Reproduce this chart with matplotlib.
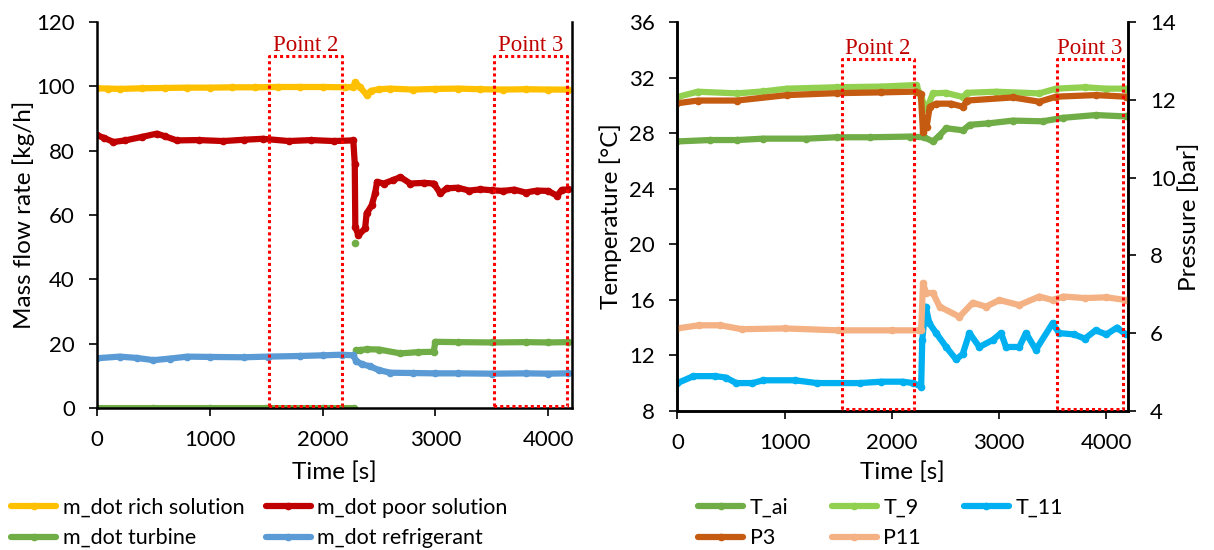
import matplotlib.pyplot as plt
import numpy as np

plt.rcParams['font.family'] = ['Lato', 'DejaVu Sans']

# ---- left chart: mass flow rates [kg/h] ----
rich_t = [0, 100, 200, 400, 600, 800, 1000, 1200, 1400, 1600, 1800, 2000, 2200, 2270,
          2290, 2330, 2390, 2430, 2500, 2600, 2800, 3000, 3200, 3400, 3600, 3800, 4000, 4180]
rich = [99.4, 99.3, 99.2, 99.4, 99.5, 99.6, 99.6, 99.7, 99.7, 99.8, 99.8, 99.8, 99.7, 99.8,
        101.2, 99.8, 97.4, 98.6, 99.1, 99.3, 99.0, 99.2, 99.3, 99.1, 99.0, 99.1, 99.0, 99.0]

poor_t = [0, 60, 145, 250, 400, 529, 600, 706, 900, 1120, 1300, 1470, 1700, 1900, 2100, 2272,
          2285, 2290, 2318, 2377, 2390, 2435, 2465, 2483, 2542, 2620, 2690, 2778, 2900, 2985,
          3045, 3100, 3200, 3300, 3400, 3500, 3600, 3700, 3800, 3900, 4000, 4080, 4120, 4180]
poor = [84.8, 84.0, 82.7, 83.2, 84.3, 85.3, 84.5, 83.2, 83.3, 83.0, 83.4, 83.7, 83.0, 83.3, 83.0, 83.2,
        76.0, 56.3, 53.7, 55.9, 60.5, 63.0, 66.7, 70.3, 69.8, 70.8, 71.8, 69.8, 70.0, 69.8,
        66.7, 68.3, 68.5, 67.6, 68.0, 67.7, 67.5, 67.9, 67.0, 67.6, 67.5, 66.0, 67.8, 68.0]

turb_t = [0, 500, 1000, 1500, 2000, 2280, 2285, 2288, 2292, 2300, 2330, 2390, 2500, 2690,
          2850, 2985, 3000, 3200, 3500, 3800, 4000, 4180]
turb = [0, 0, 0, 0, 0, 0, np.nan, 51.3, np.nan, 18.0, 18.0, 18.3, 18.2, 17.0,
        17.4, 17.5, 20.6, 20.5, 20.4, 20.5, 20.4, 20.5]

refr_t = [0, 200, 350, 500, 650, 800, 1000, 1300, 1517, 1800, 2000, 2170, 2270, 2300, 2350,
          2420, 2500, 2600, 2800, 3000, 3200, 3500, 3800, 4000, 4180]
refr = [15.5, 16.0, 15.6, 14.9, 15.4, 16.0, 15.9, 15.8, 16.0, 16.2, 16.4, 16.6, 16.4, 14.6, 13.6,
        13.0, 11.8, 11.0, 10.9, 10.8, 10.8, 10.7, 10.8, 10.7, 10.8]

# ---- right chart: temperatures [C] and pressures [bar] ----
tai_t = [0, 300, 555, 800, 1200, 1485, 1800, 2167, 2300, 2383, 2440, 2508, 2663, 2725, 2900,
         3128, 3407, 3593, 3903, 4182]
tai = [27.4, 27.5, 27.5, 27.6, 27.6, 27.7, 27.7, 27.75, 27.7, 27.4, 27.8, 28.35, 28.2, 28.6, 28.7,
       28.9, 28.85, 29.1, 29.3, 29.2]

t9_t = [0, 189, 555, 800, 1020, 1485, 1900, 2229, 2275, 2323, 2383, 2500, 2663, 2700, 2973,
        3376, 3531, 3800, 4000, 4182]
t9 = [30.6, 30.98, 30.86, 31.0, 31.2, 31.3, 31.35, 31.46, 30.5, 29.7, 30.86, 30.9, 30.6, 30.9, 30.98,
      30.86, 31.2, 31.3, 31.2, 31.2]

t11_t = [0, 150, 350, 450, 550, 700, 800, 1100, 1300, 1700, 1900, 2100, 2200, 2273, 2283, 2315,
         2350, 2413, 2506, 2599, 2661, 2723, 2816, 2940, 3018, 3064, 3188, 3250, 3343, 3498,
         3560, 3700, 3800, 3900, 4000, 4100, 4180]
t11 = [10.0, 10.5, 10.5, 10.4, 10.0, 10.0, 10.2, 10.2, 10.0, 10.0, 10.1, 10.1, 10.0, 9.75, 13.1, 15.5,
       14.3, 13.6, 12.6, 11.7, 12.1, 13.6, 12.6, 13.1, 13.6, 12.6, 12.6, 13.6, 12.4, 14.3,
       13.6, 13.5, 13.2, 13.8, 13.5, 14.0, 13.5]

p3_t = [0, 189, 555, 1020, 1485, 1900, 2229, 2270, 2290, 2323, 2353, 2414, 2550, 2663, 2700,
        3128, 3376, 3531, 3900, 4182]
p3 = [11.91, 11.98, 11.98, 12.12, 12.17, 12.19, 12.21, 12.15, 11.18, 11.3, 11.82, 11.9, 11.9, 11.82, 11.98,
      12.06, 11.95, 12.08, 12.12, 12.08]

p11_t = [0, 200, 400, 600, 1000, 1500, 2000, 2250, 2273, 2290, 2320, 2383, 2445, 2630, 2754,
         2878, 3002, 3188, 3374, 3498, 3600, 3800, 4000, 4182]
p11 = [6.12, 6.2, 6.2, 6.1, 6.12, 6.07, 6.07, 6.07, 6.07, 7.28, 7.03, 7.03, 6.68, 6.42, 6.78,
       6.68, 6.85, 6.72, 6.94, 6.85, 6.94, 6.9, 6.92, 6.85]

# point boxes: (x0, x1)
point2_left = (1525, 2170)
point3_left = (3521, 4171)
point2_right = (1532, 2207)
point3_right = (3538, 4158)

C_RICH = '#FFC000'
C_POOR = '#C00000'
C_TURB = '#70AD47'
C_REFR = '#5B9BD5'
C_T9 = '#92D050'
C_T11 = '#00B0F0'
C_P3 = '#C55A11'
C_P11 = '#F4B183'

lw = 4.5
ms = 4.5
fs = 16
fs_leg = 15.5
fs_lab = 17.5

fig = plt.figure(figsize=(12.14, 5.5), dpi=100)
ax1 = fig.add_axes([0.080, 0.258, 0.391, 0.702])
ax2 = fig.add_axes([0.558, 0.253, 0.371, 0.707])
ax2r = ax2.twinx()


def series(ax, t, v, c, label):
    return ax.plot(t, v, color=c, lw=lw, marker='o', ms=ms, mec=c, mfc=c,
                   solid_capstyle='round', label=label)[0]


h_rich = series(ax1, rich_t, rich, C_RICH, 'm_dot rich solution')
h_poor = series(ax1, poor_t, poor, C_POOR, 'm_dot poor solution')
h_turb = series(ax1, turb_t, turb, C_TURB, 'm_dot turbine')
h_refr = series(ax1, refr_t, refr, C_REFR, 'm_dot refrigerant')

h_tai = series(ax2, tai_t, tai, C_TURB, 'T_ai')
h_t9 = series(ax2, t9_t, t9, C_T9, 'T_9')
h_t11 = series(ax2, t11_t, t11, C_T11, 'T_11')
h_p3 = series(ax2r, p3_t, p3, C_P3, 'P3')
h_p11 = series(ax2r, p11_t, p11, C_P11, 'P11')


def box(ax, xs, y0, y1, label):
    ax.plot([xs[0], xs[0], xs[1], xs[1], xs[0]], [y0, y1, y1, y0, y0],
            color='#FF0000', ls=(0, (1, 1)), lw=2.2, zorder=10, clip_on=False)
    ax.text((xs[0] + xs[1]) / 2, y1, label, ha='center', va='bottom',
            color=C_POOR, fontsize=16.5, family='Liberation Serif')


box(ax1, point2_left, 0.8, 109.3, 'Point 2')
box(ax1, point3_left, 0.8, 109.3, 'Point 3')
box(ax2r, point2_right, 4.04, 13.05, 'Point 2')
box(ax2r, point3_right, 4.04, 13.05, 'Point 3')

ax1.set_xlim(0, 4210)
ax1.set_ylim(0, 120)
ax1.set_yticks(range(0, 121, 20))
ax1.set_xticks(range(0, 4001, 1000))
ax1.set_xlabel('Time [s]', fontsize=fs_lab, labelpad=8)
ax1.set_ylabel('Mass flow rate [kg/h]', fontsize=fs_lab, labelpad=1)
ax1.spines['top'].set_visible(False)

ax2.set_xlim(0, 4200)
ax2.set_ylim(8, 36)
ax2.set_yticks(range(8, 37, 4))
ax2.set_xticks(range(0, 4001, 1000))
ax2.set_xlabel('Time [s]', fontsize=fs_lab, labelpad=6)
ax2.set_ylabel('Temperature [°C]', fontsize=fs_lab, labelpad=5)
ax2r.set_ylim(4, 14)
ax2r.set_yticks(range(4, 15, 2))
ax2r.set_ylabel('Pressure [bar]', fontsize=fs_lab, labelpad=2)
for a in (ax2, ax2r):
    a.spines['top'].set_visible(False)

for a in (ax1, ax2, ax2r):
    a.tick_params(labelsize=fs, length=6, width=1.2, direction='out', pad=10)
    for s in a.spines.values():
        s.set_linewidth(1.8)

fig.legend([h_rich, h_turb, h_poor, h_refr],
           [h.get_label() for h in (h_rich, h_turb, h_poor, h_refr)],
           loc='upper left', bbox_to_anchor=(0.009, 0.0945), ncol=2, frameon=False,
           fontsize=fs_leg, handlelength=2.1, columnspacing=1.0, labelspacing=0.47,
           handletextpad=0.3, borderpad=0, borderaxespad=0)
fig.legend([h_tai, h_p3, h_t9, h_p11, h_t11],
           [h.get_label() for h in (h_tai, h_p3, h_t9, h_p11, h_t11)],
           loc='upper left', bbox_to_anchor=(0.575, 0.0945), ncol=3, frameon=False,
           fontsize=fs_leg, handlelength=2.1, columnspacing=2.0, labelspacing=0.47,
           handletextpad=0.3, borderpad=0, borderaxespad=0)

fig.savefig('out.png', dpi=100)
